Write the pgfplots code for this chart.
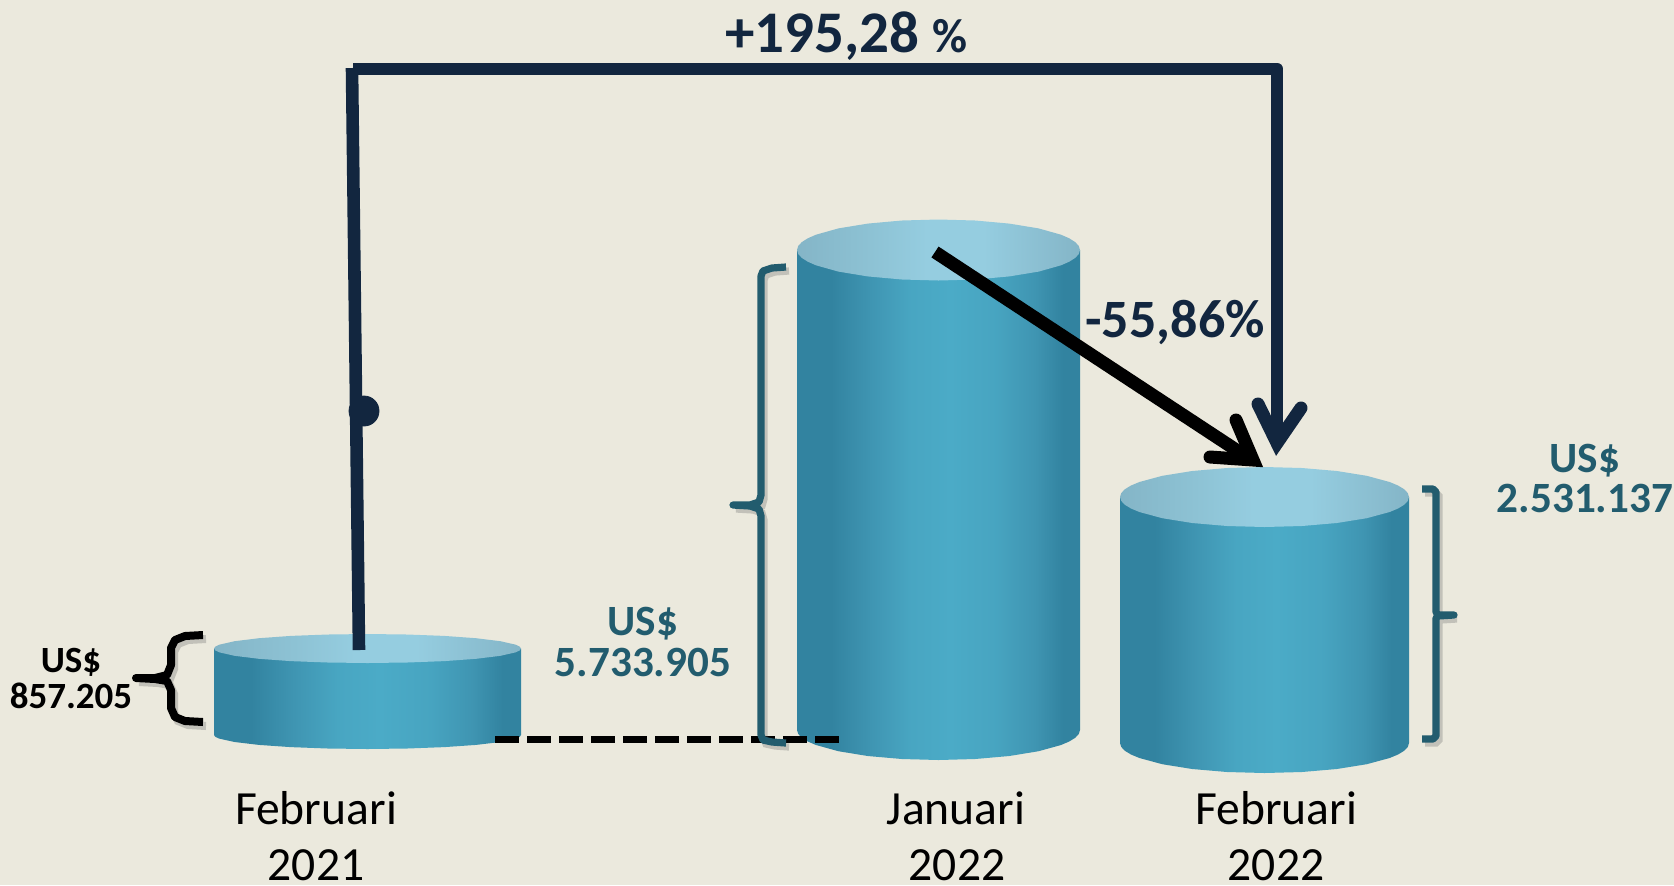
\documentclass[border=0pt]{standalone}
\usepackage{fontspec}
\setmainfont{Carlito}
\usepackage{pgfplots}
\usepackage{pgfplotstable}
\pgfplotsset{compat=1.18}

\definecolor{bg}{HTML}{EBE9DD}
\definecolor{navy}{HTML}{12263F}
\definecolor{teal}{HTML}{225C6E}

% cylinder side and lid, the path box is the 25bp..75bp part
\definecolor{be}{HTML}{3283A0}
\definecolor{bm}{HTML}{3F95B2}
\definecolor{bc}{HTML}{4BABC7}
\definecolor{te}{HTML}{84B5C7}
\definecolor{tm}{HTML}{8DC2D4}
\definecolor{tc}{HTML}{95CDE0}
\pgfdeclarehorizontalshading{cylbody}{100bp}{
  color(0bp)=(be); color(25bp)=(be); color(31bp)=(be); color(38bp)=(bm);
  color(45bp)=(bc!75!bm); color(52bp)=(bc); color(60bp)=(bc!70!bm);
  color(67bp)=(bm); color(72bp)=(be); color(75bp)=(be); color(100bp)=(be)}
\pgfdeclarehorizontalshading{cyltop}{100bp}{
  color(0bp)=(te); color(25bp)=(te); color(38bp)=(tm); color(48bp)=(tc);
  color(58bp)=(tc); color(75bp)=(te); color(100bp)=(te)}

% pixel coordinates of the reference
\pgfplotstableread{
x y
203 635
185 636
175 640
171 648
171 665
167 675
155 678
136 678
155 679
167 681
171 690
171 708
175 717
185 721
203 722
}\bracea
\pgfplotstableread{
x y
786 267
772 268
763 271
761 276
761 495
759 502
750 505
733 505
750 506
759 509
761 516
761 735
763 740
772 742
786 743
}\braceb
\pgfplotstableread{
x y
1422 489
1433 489
1436 492
1436 612
1438 615
1454 615
1438 616
1436 618
1436 736
1433 739
1422 739
}\bracec

\begin{document}
\begin{tikzpicture}
\useasboundingbox (0,0) rectangle (837pt,442.5pt);
\begin{axis}[
    at={(0,0)}, anchor=south west,
    width=837pt, height=442.5pt, scale only axis,
    xmin=0, xmax=1674, ymin=0, ymax=885,
    y dir=reverse,
    hide axis,
]
% background
\addplot[draw=none, fill=bg] coordinates {(0,0)(1674,0)(1674,885)(0,885)} -- cycle;

% Februari 2021
\addplot[draw=none, shade, shading=cylbody] coordinates {
  (214,648.5)(521,648.5)(521,735)(519.7,736.8)(515.8,738.6)(500.4,742)(476,744.9)(444.3,747.1)(407.2,748.5)
  (367.5,749)(327.8,748.5)(290.7,747.1)(259,744.9)(234.6,742)(219.2,738.6)(215.3,736.8)(214,735)} -- cycle;
\addplot[draw=none, shade, shading=cyltop] coordinates {
  (521,648.5)(519.7,650.4)(515.8,652.3)(500.4,655.8)(476,658.8)(444.3,661.1)(407.2,662.5)
  (367.5,663)(327.8,662.5)(290.7,661.1)(259,658.8)(234.6,655.8)(219.2,652.3)(215.3,650.4)
  (214,648.5)(215.3,646.6)(219.2,644.7)(234.6,641.2)(259,638.2)(290.7,635.9)(327.8,634.5)
  (367.5,634)(407.2,634.5)(444.3,635.9)(476,638.2)(500.4,641.2)(515.8,644.7)(519.7,646.6)} -- cycle;

% Januari 2022
\addplot[draw=none, shade, shading=cylbody] coordinates {
  (797,250)(1080,250)(1080,730)(1078.8,733.9)(1075.2,737.8)(1069.2,741.5)(1061,745)(1038.6,751.2)(1009.3,756)(975.1,759)
  (938.5,760)(901.9,759)(867.7,756)(838.4,751.2)(816,745)(807.8,741.5)(801.8,737.8)(798.2,733.9)(797,730)} -- cycle;
\addplot[draw=none, shade, shading=cyltop] coordinates {
  (1080,250)(1078.8,254)(1075.2,257.9)(1069.2,261.7)(1061,265.3)(1038.6,271.6)(1009.3,276.4)(975.1,279.5)
  (938.5,280.5)(901.9,279.5)(867.7,276.4)(838.4,271.6)(816,265.3)(807.8,261.7)(801.8,257.9)(798.2,254)
  (797,250)(798.2,246)(801.8,242.1)(807.8,238.3)(816,234.7)(838.4,228.4)(867.7,223.6)(901.9,220.5)
  (938.5,219.5)(975.1,220.5)(1009.3,223.6)(1038.6,228.4)(1061,234.7)(1069.2,238.3)(1075.2,242.1)(1078.8,246)} -- cycle;

% Februari 2022
\addplot[draw=none, shade, shading=cylbody] coordinates {
  (1120,497)(1409,497)(1409,743)(1407.8,746.9)(1404.1,750.8)(1398,754.5)(1389.6,758)(1366.7,764.2)(1336.8,769)(1301.9,772)
  (1264.5,773)(1227.1,772)(1192.2,769)(1162.3,764.2)(1139.4,758)(1131,754.5)(1124.9,750.8)(1121.2,746.9)(1120,743)} -- cycle;
\addplot[draw=none, shade, shading=cyltop] coordinates {
  (1409,497)(1407.8,500.9)(1404.1,504.8)(1398,508.5)(1389.6,512)(1366.7,518.2)(1336.8,523)(1301.9,526)
  (1264.5,527)(1227.1,526)(1192.2,523)(1162.3,518.2)(1139.4,512)(1131,508.5)(1124.9,504.8)(1121.2,500.9)
  (1120,497)(1121.2,493.1)(1124.9,489.2)(1131,485.5)(1139.4,482)(1162.3,475.8)(1192.2,471)(1227.1,468)
  (1264.5,467)(1301.9,468)(1336.8,471)(1366.7,475.8)(1389.6,482)(1398,485.5)(1404.1,489.2)(1407.8,493.1)} -- cycle;

% dashed base line
\addplot[black, line width=3.5pt, dash pattern=on 12pt off 4pt] coordinates {(495,739)(840,739)};

% +195,28 % bracket and arrow
\addplot[navy, line width=6.3pt] coordinates {(352,68)(359,650)};
\addplot[navy, line width=6.3pt, line join=round] coordinates {(353,69)(1277,69)(1277,445)};
\addplot[navy, line width=6.5pt, line join=miter, miter limit=10, line cap=round]
  coordinates {(1258,404)(1277,443)(1301,408)};
\addplot[navy, only marks, mark=*, mark size=7.5pt, mark options={fill=navy, draw=none}]
  coordinates {(364,411)};

% -55,86% arrow
\addplot[black, line width=6.5pt] coordinates {(935,252)(1250,459)};
\addplot[black, line width=6.5pt, line join=miter, miter limit=10, line cap=round]
  coordinates {(1236,420)(1253,460)(1210,457)};

% braces with a soft shadow
\addplot[black!60, opacity=.3, line width=4pt, xshift=1.5pt, yshift=-2pt] table {\bracea};
\addplot[black, line width=4pt, line join=round] table {\bracea};
\addplot[black!60, opacity=.3, line width=3.6pt, xshift=1.5pt, yshift=-2pt] table {\braceb};
\addplot[teal, line width=3.6pt, line join=round] table {\braceb};
\addplot[black!60, opacity=.3, line width=3.6pt, xshift=1.5pt, yshift=-2pt] table {\bracec};
\addplot[teal, line width=3.6pt, line join=round] table {\bracec};

% value labels
\tikzset{every node/.append style={inner sep=0pt}}
\node[anchor=base west, navy, font=\bfseries] at (axis cs:725,52)
  {\fontsize{29.5}{29.5}\selectfont +195,28 \fontsize{24}{24}\selectfont \%};
\node[anchor=base west, navy, font=\bfseries] at (axis cs:1085,337)
  {\fontsize{27}{27}\selectfont -55,86\%};

\node[anchor=base, black, font=\bfseries\fontsize{18.5}{18.5}\selectfont] at (axis cs:71,672) {US\$};
\node[anchor=base, black, font=\bfseries\fontsize{18.5}{18.5}\selectfont] at (axis cs:71,708) {857.205};
\node[anchor=base, teal, font=\bfseries\fontsize{21.6}{21.6}\selectfont] at (axis cs:643,635) {US\$};
\node[anchor=base, teal, font=\bfseries\fontsize{21.6}{21.6}\selectfont] at (axis cs:643,676) {5.733.905};
\node[anchor=base, teal, font=\bfseries\fontsize{21.6}{21.6}\selectfont] at (axis cs:1585,472) {US\$};
\node[anchor=base, teal, font=\bfseries\fontsize{21.6}{21.6}\selectfont] at (axis cs:1585,512) {2.531.137};

% category labels
\node[anchor=base, black, font=\fontsize{23.8}{23.8}\selectfont] at (axis cs:316,824) {Februari};
\node[anchor=base, black, font=\fontsize{23.8}{23.8}\selectfont] at (axis cs:316,880) {2021};
\node[anchor=base, black, font=\fontsize{23.8}{23.8}\selectfont] at (axis cs:956,824) {Januari};
\node[anchor=base, black, font=\fontsize{23.8}{23.8}\selectfont] at (axis cs:957,880) {2022};
\node[anchor=base, black, font=\fontsize{23.8}{23.8}\selectfont] at (axis cs:1276,824) {Februari};
\node[anchor=base, black, font=\fontsize{23.8}{23.8}\selectfont] at (axis cs:1276,880) {2022};
\end{axis}
\end{tikzpicture}
\end{document}
